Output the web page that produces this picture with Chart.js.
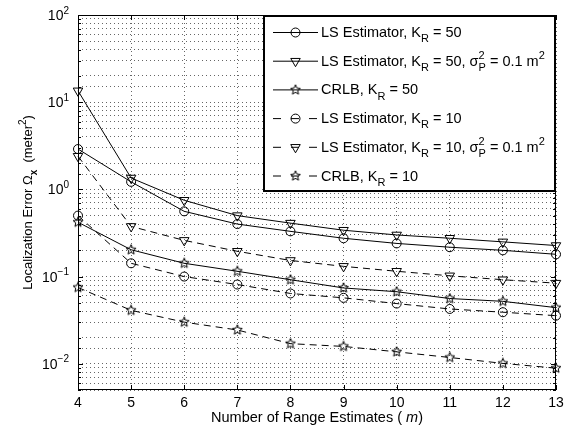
<!DOCTYPE html>
<html>
<head>
<meta charset="utf-8">
<script src="https://cdn.jsdelivr.net/npm/chart.js@4.4.1/dist/chart.umd.min.js"></script>
<style>
  html, body { margin: 0; padding: 0; background: #fff; }
</style>
</head>
<body>
<canvas id="errChart" width="574" height="435"></canvas>
<script>
// values
const numRanges = [4, 5, 6, 7, 8, 9, 10, 11, 12, 13];
const lsK50 = [2.9, 1.22, 0.56, 0.40, 0.33, 0.275, 0.24, 0.217, 0.2, 0.18];
const lsK50Sigma = [13.5, 1.35, 0.75, 0.50, 0.41, 0.34, 0.30, 0.275, 0.25, 0.227];
const crlbK50 = [0.42, 0.203, 0.142, 0.115, 0.092, 0.074, 0.067, 0.056, 0.052, 0.044];
const lsK10 = [0.50, 0.142, 0.10, 0.081, 0.064, 0.057, 0.049, 0.0425, 0.039, 0.0356];
const lsK10Sigma = [2.4, 0.376, 0.26, 0.195, 0.153, 0.131, 0.115, 0.102, 0.092, 0.084];
const crlbK10 = [0.075, 0.041, 0.030, 0.0244, 0.017, 0.0158, 0.0137, 0.0118, 0.0101, 0.0089];
const yTickExps = [-2, -1, 0, 1, 2];

const legendLabels = [
    [{t: 'LS Estimator, K'}, {sub: 'R'}, {t: ' = 50'}],
    [{t: 'LS Estimator, K'}, {sub: 'R'}, {t: ' = 50, \u03c3'}, {sup: '2', sub: 'P'}, {t: ' = 0.1 m'}, {sup: '2'}],
    [{t: 'CRLB, K'}, {sub: 'R'}, {t: ' = 50'}],
    [{t: 'LS Estimator, K'}, {sub: 'R'}, {t: ' = 10'}],
    [{t: 'LS Estimator, K'}, {sub: 'R'}, {t: ' = 10, \u03c3'}, {sup: '2', sub: 'P'}, {t: ' = 0.1 m'}, {sup: '2'}],
    [{t: 'CRLB, K'}, {sub: 'R'}, {t: ' = 10'}]
];
const xTitle = [{t: 'Number of Range Estimates ( '}, {t: 'm', i: true}, {t: ')'}];
const yTitle = [{t: 'Localization Error \u03a9'}, {sub: 'x', b: true}, {t: '  (meter'}, {sup: '2'}, {t: ')'}];

const FONT = '"Liberation Sans", Arial, Helvetica, sans-serif';

function makeStar(size) {
    const cv = document.createElement('canvas');
    cv.width = cv.height = size;
    const g = cv.getContext('2d');
    const c = size / 2, R = size / 2 - 0.8, r = R * 0.45;
    g.beginPath();
    for (let i = 0; i < 10; i++) {
        const a = -Math.PI / 2 + i * Math.PI / 5;
        const rr = i % 2 ? r : R;
        g.lineTo(c + rr * Math.cos(a), c + rr * Math.sin(a));
    }
    g.closePath();
    g.strokeStyle = '#000';
    g.lineWidth = 1;
    g.stroke();
    return cv;
}
const star = makeStar(12);

// draws text with sub/superscripts, returns width
function drawRich(ctx, parts, x, y, size, measureOnly) {
    let cx = x;
    for (const p of parts) {
        if (p.t !== undefined) {
            ctx.font = (p.i ? 'italic ' : '') + (p.b ? 'bold ' : '') + size + 'px ' + FONT;
            if (!measureOnly) ctx.fillText(p.t, cx, y);
            cx += ctx.measureText(p.t).width;
        } else {
            const s = Math.round(size * 0.74);
            ctx.font = (p.b ? 'bold ' : '') + s + 'px ' + FONT;
            let w = 0;
            if (p.sup) {
                if (!measureOnly) ctx.fillText(p.sup, cx, y - size * 0.45);
                w = Math.max(w, ctx.measureText(p.sup).width);
            }
            if (p.sub) {
                if (!measureOnly) ctx.fillText(p.sub, cx, y + size * 0.36);
                w = Math.max(w, ctx.measureText(p.sub).width);
            }
            cx += w;
        }
    }
    return cx - x;
}

function series(label, data, pointStyle, dashed, extra) {
    return Object.assign({
        label: label,
        data: data,
        borderColor: '#000',
        backgroundColor: 'rgba(0,0,0,0)',
        borderWidth: 1,
        borderDash: dashed ? [7, 5] : [],
        pointStyle: pointStyle,
        pointRadius: 4.5,
        pointBorderColor: '#000',
        pointBackgroundColor: 'rgba(0,0,0,0)',
        pointBorderWidth: 1,
        tension: 0,
        fill: false
    }, extra || {});
}

const frame = {
    id: 'frame',
    afterDatasetsDraw(chart) {
        const ctx = chart.ctx, a = chart.chartArea;
        const ys = chart.scales.y, xs = chart.scales.x;
        ctx.save();
        ctx.strokeStyle = '#000';
        ctx.lineWidth = 1;
        ctx.strokeRect(a.left + 0.5, a.top + 0.5, a.right - a.left - 1, a.bottom - a.top - 1);
        ctx.beginPath();
        ys.ticks.forEach(t => {
            const py = Math.round(ys.getPixelForValue(t.value)) + 0.5;
            const major = Math.abs(Math.log10(t.value) - Math.round(Math.log10(t.value))) < 1e-6;
            const len = major ? 5 : 3;
            ctx.moveTo(a.left, py); ctx.lineTo(a.left + len, py);
            ctx.moveTo(a.right, py); ctx.lineTo(a.right - len, py);
        });
        numRanges.forEach((v, i) => {
            const px = Math.round(xs.getPixelForValue(i)) + 0.5;
            ctx.moveTo(px, a.bottom); ctx.lineTo(px, a.bottom - 5);
            ctx.moveTo(px, a.top); ctx.lineTo(px, a.top + 5);
        });
        ctx.stroke();

        // y tick labels 10^n
        ctx.fillStyle = '#000';
        ctx.textBaseline = 'alphabetic';
        yTickExps.forEach(e => {
            const py = ys.getPixelForValue(Math.pow(10, e));
            const parts = [{t: '10'}, {sup: e < 0 ? '\u2212' + (-e) : String(e)}];
            const w = drawRich(ctx, parts, 0, 0, 14, true);
            drawRich(ctx, parts, a.left - 9 - w, py + 5, 14);
        });

        // axis titles
        const xw = drawRich(ctx, xTitle, 0, 0, 14.5, true);
        drawRich(ctx, xTitle, (a.left + a.right) / 2 - xw / 2, 422, 14.5);
        ctx.save();
        ctx.translate(32, (a.top + a.bottom) / 2);
        ctx.rotate(-Math.PI / 2);
        const yw = drawRich(ctx, yTitle, 0, 0, 13, true);
        drawRich(ctx, yTitle, -yw / 2, 0, 13);
        ctx.restore();
        ctx.restore();
    }
};

const legendBox = {
    id: 'legendBox',
    afterDatasetsDraw(chart) {
        const ctx = chart.ctx, a = chart.chartArea;
        const left = a.right - 293, top = a.top, h = 177;
        ctx.save();
        ctx.fillStyle = '#fff';
        ctx.fillRect(left, top, a.right - left, h);
        ctx.strokeStyle = '#000';
        ctx.lineWidth = 2;
        ctx.strokeRect(left + 1, top + 1, a.right - left - 2, h - 2);
        chart.data.datasets.forEach((d, i) => {
            const y = top + 17 + i * 28.7;
            const x0 = left + 10, x1 = left + 55, xm = (x0 + x1) / 2;
            ctx.lineWidth = 1;
            ctx.strokeStyle = '#000';
            ctx.setLineDash(d.borderDash.length ? [8, 10] : []);
            ctx.beginPath();
            ctx.moveTo(x0, y + 0.5); ctx.lineTo(x1, y + 0.5);
            ctx.stroke();
            ctx.setLineDash([]);
            ctx.fillStyle = 'rgba(0,0,0,0)';
            Chart.helpers.drawPoint(ctx, {
                pointStyle: d.pointStyle, radius: d.pointRadius,
                rotation: d.rotation || 0, borderWidth: 1
            }, xm, y + 0.5);
            ctx.fillStyle = '#000';
            ctx.textBaseline = 'alphabetic';
            drawRich(ctx, legendLabels[i], x1 + 3, y + 5, 14.5);
        });
        ctx.restore();
    }
};

new Chart(document.getElementById('errChart').getContext('2d'), {
    type: 'line',
    data: {
        labels: numRanges,
        datasets: [
            series('LS Estimator, K_R = 50', lsK50, 'circle', false),
            series('LS Estimator, K_R = 50, sigma_P^2 = 0.1 m^2', lsK50Sigma, 'triangle', false, {rotation: 180, pointRadius: 5.5}),
            series('CRLB, K_R = 50', crlbK50, star, false),
            series('LS Estimator, K_R = 10', lsK10, 'circle', true),
            series('LS Estimator, K_R = 10, sigma_P^2 = 0.1 m^2', lsK10Sigma, 'triangle', true, {rotation: 180, pointRadius: 5.5}),
            series('CRLB, K_R = 10', crlbK10, star, true)
        ]
    },
    options: {
        responsive: false,
        animation: false,
        layout: {
            padding: {left: 8, right: 18, top: 15, bottom: 5}
        },
        scales: {
            x: {
                type: 'category',
                offset: false,
                grid: {
                    color: '#666',
                    drawTicks: false,
                    offset: false
                },
                border: {display: false, dash: [1, 3]},
                ticks: {
                    color: '#000',
                    font: {size: 14, family: FONT},
                    padding: 5,
                    maxRotation: 0,
                    autoSkip: false
                },
                afterFit(s) { s.height = 40; }
            },
            y: {
                type: 'logarithmic',
                min: 0.005,
                max: 100,
                grid: {
                    color: '#666',
                    drawTicks: false
                },
                border: {display: false, dash: [1, 3]},
                ticks: {display: false, autoSkip: false},
                afterFit(s) { s.width = 70; }
            }
        },
        plugins: {
            legend: {display: false},
            tooltip: {enabled: false}
        }
    },
    plugins: [frame, legendBox]
});
</script>
</body>
</html>
